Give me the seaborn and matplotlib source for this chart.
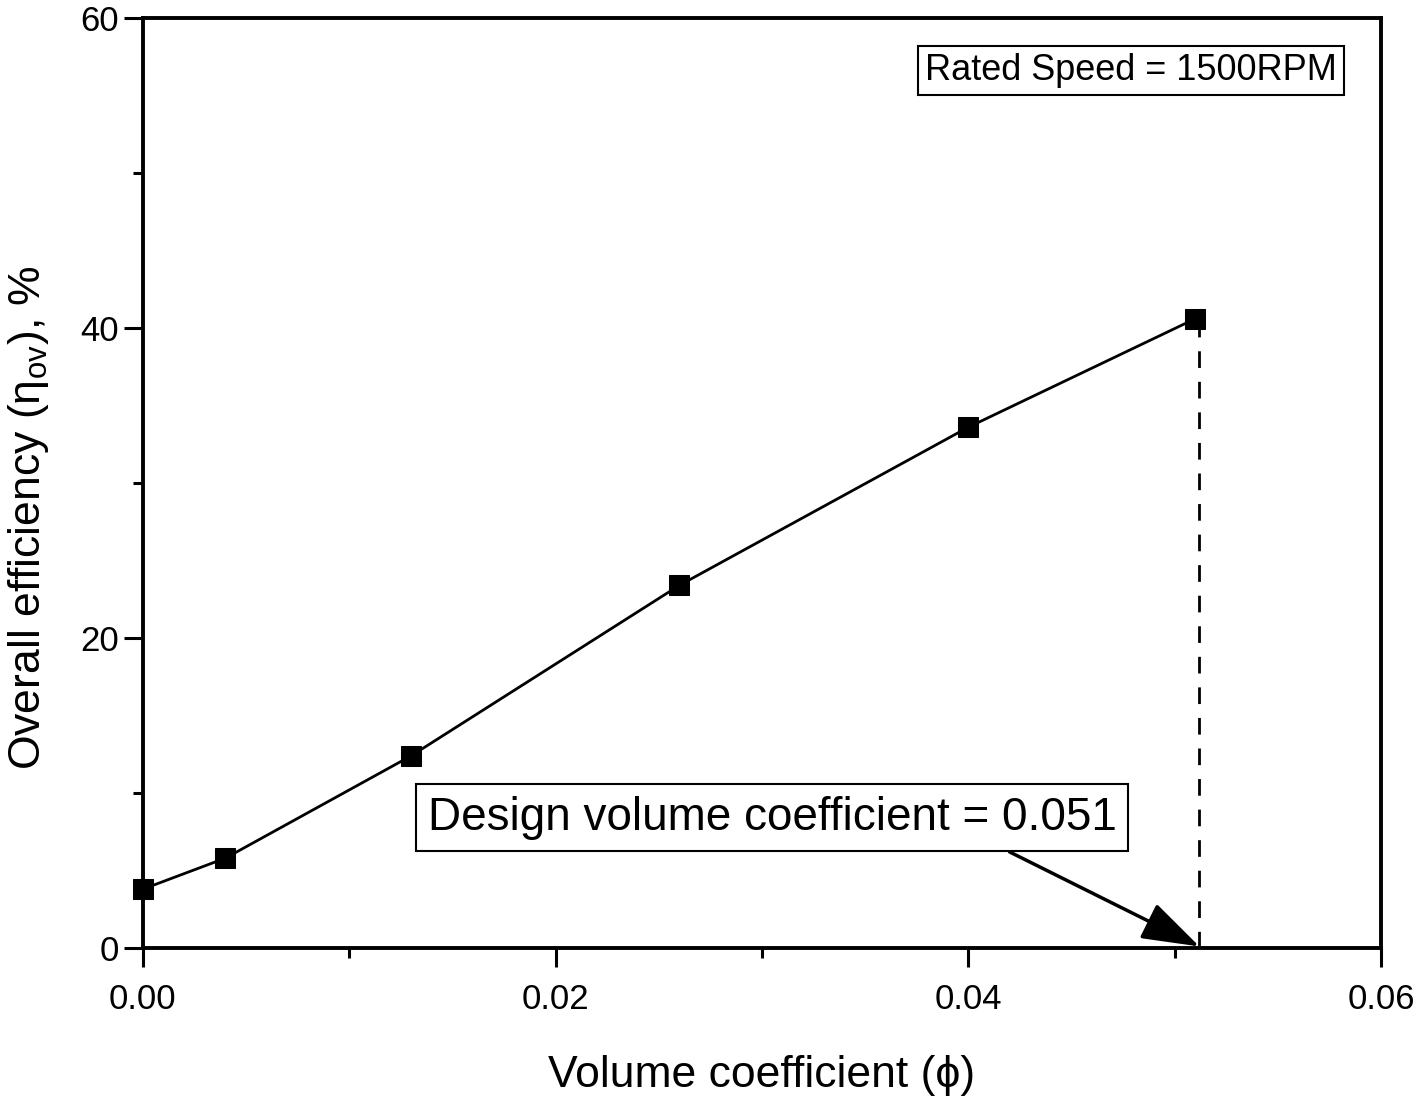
import numpy as np
import pandas as pd
import seaborn as sns
import matplotlib.pyplot as plt
from matplotlib.ticker import MultipleLocator

# data
phi = [0.0, 0.004, 0.013, 0.026, 0.040, 0.051]
efficiency = [3.8, 5.8, 12.4, 23.4, 33.6, 40.6]
design_phi = 0.051
rated_text = 'Rated Speed = 1500RPM'
design_text = 'Design volume coefficient = 0.051'

df = pd.DataFrame({'phi': phi, 'eff': efficiency})

sns.set_style('ticks', {'axes.edgecolor': 'black', 'text.color': 'black',
                        'axes.labelcolor': 'black', 'xtick.color': 'black',
                        'ytick.color': 'black'})
plt.rcParams['font.family'] = ['Liberation Sans', 'DejaVu Sans']
plt.rcParams['mathtext.fontset'] = 'custom'
plt.rcParams['mathtext.rm'] = 'Liberation Sans'
plt.rcParams['mathtext.it'] = 'Liberation Sans:italic'

fig = plt.figure(figsize=(14.18, 10.98), dpi=100)
ax = fig.add_axes([0.1008, 0.1366, 0.8731, 0.847])

sns.lineplot(data=df, x='phi', y='eff', ax=ax, color='black', linewidth=2,
             marker='s', markersize=15, markeredgecolor='black', clip_on=False)

# dashed drop line at design point
ax.vlines(design_phi + 0.0002, 0, df['eff'].iloc[-1], colors='black',
          linestyles=(0, (6, 5)), linewidth=2)

ax.set_xlim(0, 0.06)
ax.set_ylim(0, 60)
ax.xaxis.set_major_locator(MultipleLocator(0.02))
ax.xaxis.set_minor_locator(MultipleLocator(0.01))
ax.yaxis.set_major_locator(MultipleLocator(20))
ax.yaxis.set_minor_locator(MultipleLocator(10))
ax.set_xticklabels([f'{v:.2f}' for v in ax.get_xticks()])
ax.tick_params(which='major', length=14, width=2.2, labelsize=25, direction='out')
ax.tick_params(axis='x', which='major', pad=11)
ax.tick_params(axis='y', which='major', pad=3)
ax.tick_params(which='minor', length=7, width=2.2, direction='out')
for s in ax.spines.values():
    s.set_linewidth(2.8)
    s.set_visible(True)

ax.set_xlabel('Volume coefficient (ϕ)', fontsize=32, labelpad=28)
ax.set_ylabel(r'Overall efficiency ($\mathrm{\eta}_{\mathrm{ov}}$), %', fontsize=32)
ax.yaxis.set_label_coords(-0.074, 0.463)

ax.text(0.0479, 56.6, rated_text, fontsize=26, ha='center', va='center',
        bbox=dict(boxstyle='square,pad=0.2', fc='white', ec='black', lw=1.5))
ax.text(0.0305, 8.4, design_text, fontsize=33, ha='center', va='center',
        bbox=dict(boxstyle='square,pad=0.25', fc='white', ec='black', lw=1.5))
ax.annotate('', xy=(design_phi + 0.0002, 0.1), xytext=(0.0420, 6.2),
            arrowprops=dict(arrowstyle='-|>,head_length=0.9,head_width=0.3',
                            mutation_scale=40, lw=2.5, color='black',
                            shrinkA=0, shrinkB=0))

fig.savefig('out.png', dpi=100)
